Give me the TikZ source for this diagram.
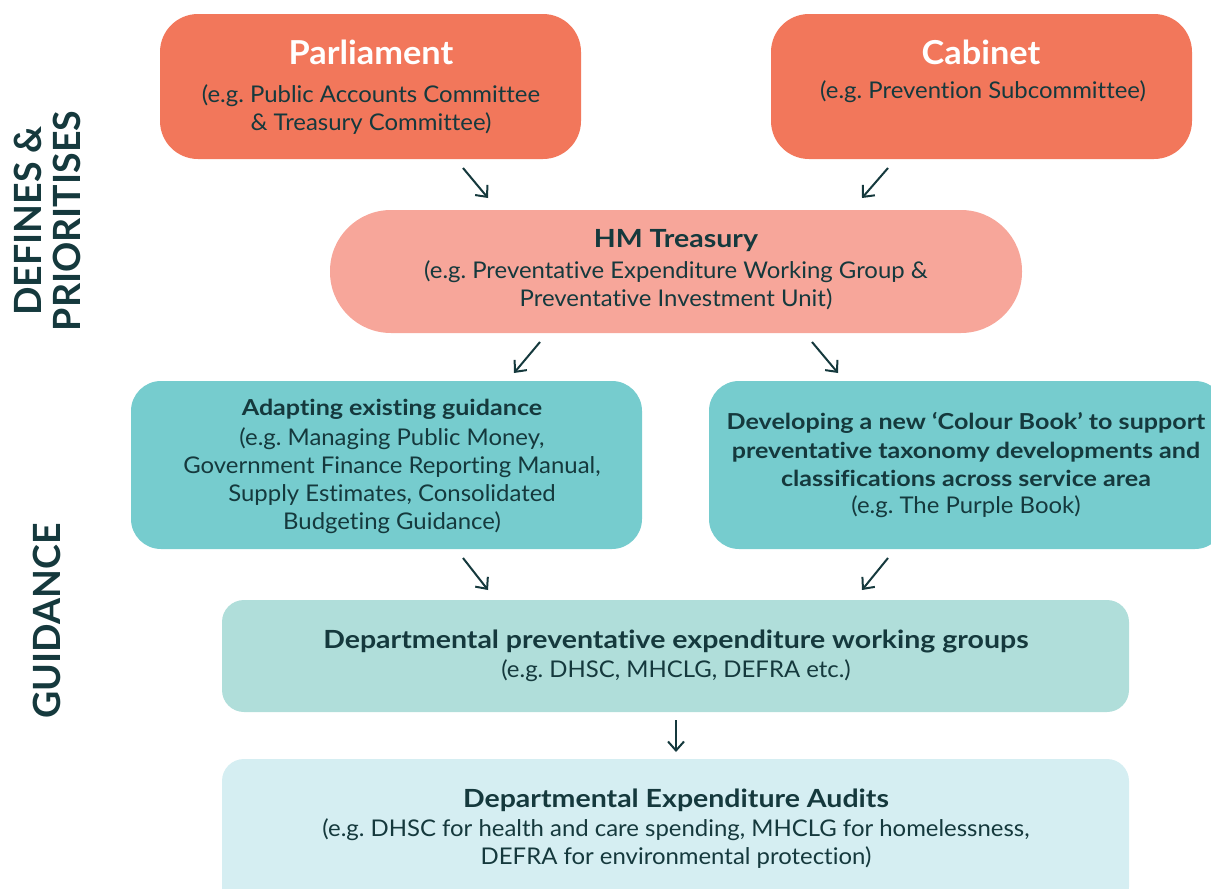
\documentclass[tikz,border=0pt]{standalone}
\usepackage{fontspec}
\setmainfont{Lato}[FakeStretch=1.04, Ligatures=NoCommon]
\newfontfamily\headfont{Lato}[FakeStretch=1.14, Ligatures=NoCommon]
\newfontfamily\sidefont{Lato}[Ligatures=NoCommon]
\usetikzlibrary{positioning,arrows.meta}

\definecolor{ink}{HTML}{15393D}
\definecolor{topred}{HTML}{F2775B}
\definecolor{treasurypink}{HTML}{F7A69A}
\definecolor{guideteal}{HTML}{76CCCE}
\definecolor{deptgreen}{HTML}{B0DEDA}
\definecolor{auditblue}{HTML}{D5EEF2}

\tikzset{
  box/.style={inner sep=0pt, draw=none},
  ttl/.style={text=ink, inner sep=0pt, align=center, font=\fontsize{25}{30}\headfont\bfseries\frenchspacing},
  toptl/.style={text=white, inner sep=0pt, align=center, font=\fontsize{33}{38}\selectfont\bfseries},
  txt/.style={text=ink, inner sep=0pt, align=center, font=\fontsize{23}{28}\selectfont\frenchspacing},
  side/.style={text=ink, inner sep=0pt, align=center, rotate=90, font=\fontsize{37.5}{39}\sidefont\bfseries},
  arr/.style={draw=ink, line width=2pt, -{Straight Barb[length=9pt,width=16pt]}}
}

\begin{document}
\begin{tikzpicture}[x=1pt,y=-1pt]
\useasboundingbox (0,0) rectangle (1211,889);

% boxes
\node[box, fill=topred, minimum width=421pt, minimum height=145pt, rounded corners=38pt] (parl) at (370.5,86.5) {};
\node[box, fill=topred, minimum width=421pt, minimum height=145pt, rounded corners=38pt] (cab) at (981.5,86.5) {};
\node[box, fill=treasurypink, minimum width=692pt, minimum height=123pt, rounded corners=61pt] (hmt) at (676,271.5) {};
\node[box, fill=guideteal, minimum width=511pt, minimum height=168pt, rounded corners=30pt] (adapt) at (386.5,465) {};
\node[box, fill=guideteal, minimum width=516pt, minimum height=168pt, rounded corners=30pt] (colour) at (967,465) {};
\node[box, fill=deptgreen, minimum width=907pt, minimum height=112pt, rounded corners=22pt] (dept) at (675.5,656) {};
\node[box, fill=auditblue, minimum width=907pt, minimum height=150pt, rounded corners=22pt] (audit) at (675.5,834) {};

% texts
\node[toptl] (parlT) at (371,52) {Parliament};
\node[txt] (parlS) at (371,110) {(e.g. Public Accounts Committee\\ \& Treasury Committee)};
\node[toptl] (cabT) at (981,52) {Cabinet};
\node[txt] (cabS) at (983,92) {(e.g. Prevention Subcommittee)};
\node[ttl] (hmtT) at (676,241) {HM Treasury};
\node[txt] (hmtS) at (676,285) {(e.g. Preventative Expenditure Working Group \&\\ Preventative Investment Unit)};
\node[ttl, font=\fontsize{22}{28}\headfont\bfseries] (adaptT) at (392,409) {Adapting existing guidance};
\node[txt] (adaptS) at (392,481) {(e.g. Managing Public Money,\\ Government Finance Reporting Manual,\\ Supply Estimates, Consolidated\\ Budgeting Guidance)};
\node[ttl, font=\fontsize{22}{28.5}\headfont\bfseries] (colourT) at (966,450) {Developing a new ‘Colour Book’ to support\\ preventative taxonomy developments and\\ classifications across service area};
\node[txt] (colourS) at (966,507) {(e.g. The Purple Book)};
\node[ttl] (deptT) at (676,641) {Departmental preventative expenditure working groups};
\node[txt] (deptS) at (676,671) {(e.g. DHSC, MHCLG, DEFRA etc.)};
\node[ttl] (auditT) at (676,800) {Departmental Expenditure Audits};
\node[txt] (auditS) at (676,844) {(e.g. DHSC for health and care spending, MHCLG for homelessness,\\ DEFRA for environmental protection)};

% side labels
\node[side] (defines) at (47,221) {DEFINES \&\\ PRIORITISES};
\node[side] (guidance) at (47,621) {GUIDANCE};

% arrows
\coordinate (a1s) at (463,168);
\coordinate (a1e) at (488,198);
\coordinate (a2s) at (888,168);
\coordinate (a2e) at (862,198);
\coordinate (a3s) at (540,342);
\coordinate (a3e) at (514,373);
\coordinate (a4s) at (812,342);
\coordinate (a4e) at (838,373);
\coordinate (a5s) at (463,558);
\coordinate (a5e) at (488,590);
\coordinate (a6s) at (888,558);
\coordinate (a6e) at (862,590);
\coordinate (a7s) at (676,720);
\coordinate (a7e) at (676,752);
\draw[arr] (a1s) -- (a1e);
\draw[arr] (a2s) -- (a2e);
\draw[arr] (a3s) -- (a3e);
\draw[arr] (a4s) -- (a4e);
\draw[arr] (a5s) -- (a5e);
\draw[arr] (a6s) -- (a6e);
\draw[arr] (a7s) -- (a7e);
\end{tikzpicture}
\end{document}
